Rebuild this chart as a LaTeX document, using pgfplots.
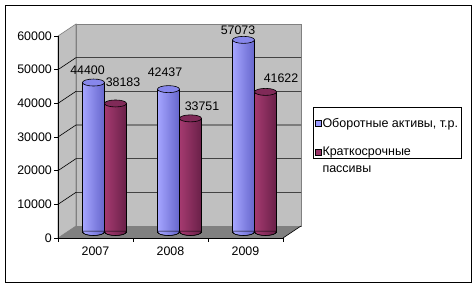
\documentclass[border=0pt]{standalone}
\usepackage{fontspec}
\setmainfont{Liberation Sans}
\usepackage{pgfplots}
\pgfplotsset{compat=1.18}
\usepackage{pgfplotstable}
\definecolor{wallc}{RGB}{192,192,192}
\definecolor{floorc}{RGB}{128,128,128}
\definecolor{bL}{RGB}{165,165,255}
\definecolor{bR}{RGB}{102,102,204}
\definecolor{bT}{RGB}{135,135,235}
\definecolor{rL}{RGB}{165,58,112}
\definecolor{rR}{RGB}{105,32,72}
\definecolor{rT}{RGB}{128,42,88}
\definecolor{legB}{RGB}{153,153,255}
\definecolor{legR}{RGB}{153,51,102}

\pgfplotstableread{
x y dx dy
0 44400 -17 12
1 42437 -14.5 17
2 57073 -16.5 10
}\blueT
\pgfplotstableread{
x y dx dy
0 38183 18.5 21.5
1 33751 22.5 12.4
2 41622 26.5 14
}\redT

\pgfdeclareplotmark{topB}{\path[draw=black, fill=bT, line width=0.6pt] (-11pt,0pt) ellipse [x radius=11pt, y radius=3.5pt];}
\pgfdeclareplotmark{topR}{\path[draw=black, fill=rT, line width=0.6pt] (11pt,0pt) ellipse [x radius=11pt, y radius=3.5pt];}
\pgfdeclareplotmark{botB}{%
  \path[left color=bL, right color=bR] (-21.6pt,0.9pt) -- (-21.6pt,0pt) arc[start angle=180,end angle=360,x radius=10.6pt,y radius=3.5pt] -- (-0.4pt,0.9pt) -- cycle;
  \draw[line width=0.6pt] (-22pt,0pt) arc[start angle=180,end angle=360,x radius=11pt,y radius=3.5pt];}
\pgfdeclareplotmark{botR}{%
  \path[left color=rL, right color=rR] (0.4pt,0.9pt) -- (0.4pt,0pt) arc[start angle=180,end angle=360,x radius=10.6pt,y radius=3.5pt] -- (21.6pt,0.9pt) -- cycle;
  \draw[line width=0.6pt] (0pt,0pt) arc[start angle=180,end angle=360,x radius=11pt,y radius=3.5pt];}

\newcommand{\F}[2]{([xshift=-9pt,yshift=-6pt]axis cs:#1,#2)}
\newcommand{\B}[2]{([xshift=9pt,yshift=6pt]axis cs:#1,#2)}

\begin{document}
\begin{tikzpicture}[x=1pt,y=1pt]
\useasboundingbox (0,0) rectangle (476,287);
\fill[white] (0,0) rectangle (476,287);
\draw[black, line width=0.8pt] (5,5) rectangle (471,282);
\begin{axis}[
  at={(67pt,55pt)}, anchor=south west, scale only axis,
  width=225pt, height=202pt,
  xmin=-0.5, xmax=2.5, ymin=0, ymax=60000,
  clip=false,
  axis line style={draw=none}, major tick length=0pt,
  xtick={0,1,2}, xticklabels={2007,2008,2009},
  ytick={0,10000,...,60000},
  scaled y ticks=false,
  /pgf/number format/1000 sep={},
  /pgf/number format/assume math mode=true,
  tick label style={font=\fontsize{12.4}{14}\selectfont},
  xticklabel style={anchor=center, xshift=-9pt, yshift=-19pt},
  yticklabel style={anchor=east, inner sep=0pt, xshift=-15pt, yshift=-6pt},
  every node near coord/.append style={font=\fontsize{12.4}{14}\selectfont, text=black},
  legend cell align=left,
  legend style={at={(1.092,0.619)}, anchor=north west, draw=black, line width=0.6pt,
    font=\fontsize{12.5}{12}\selectfont, inner xsep=2pt, inner ysep=0pt, row sep=16.5pt,
    nodes={inner sep=1pt, anchor=base west}},
]
% walls
\path[fill=wallc, draw=floorc, line width=0.6pt] \F{-0.5}{0} -- \B{-0.5}{0} -- \B{-0.5}{60000} -- \F{-0.5}{60000} -- cycle;
\path[fill=wallc, draw=floorc, line width=0.6pt] \B{-0.5}{0} -- \B{2.5}{0} -- \B{2.5}{60000} -- \B{-0.5}{60000} -- cycle;
\pgfplotsinvokeforeach{10000,20000,30000,40000,50000}{
  \draw[black, line width=0.6pt] \F{-0.5}{#1} -- \B{-0.5}{#1} -- \B{2.5}{#1};
}
% floor
\path[fill=floorc] \F{-0.5}{0} -- \F{2.5}{0} -- \B{2.5}{0} -- \B{-0.5}{0} -- cycle;
\draw[black, line width=0.6pt] \F{2.5}{0} -- \B{2.5}{0};
% front axes
\draw[black, line width=0.8pt] \F{-0.5}{60000} -- \F{-0.5}{0} -- \F{2.5}{0};
\pgfplotsinvokeforeach{0,10000,20000,30000,40000,50000,60000}{
  \draw[black, line width=0.6pt] \F{-0.5}{#1} -- ++(-4pt,0pt);
}
\pgfplotsinvokeforeach{-0.5,0.5,1.5,2.5}{
  \draw[black, line width=0.6pt] \F{#1}{0} -- ++(0pt,-4pt);
}
% bars, one path per bar so that each bar gets its own cylinder shading
\pgfplotsinvokeforeach{-0.2:0.2,0.8:1.2,1.8:2.2}{
\addplot[forget plot, ybar, bar width=22pt, bar shift=-11pt, draw=black, line width=0.6pt,
  left color=bL, right color=bR, restrict x to domain=#1] table[x=x,y=y] \blueT;
\addplot[forget plot, ybar, bar width=22pt, bar shift=11pt, draw=black, line width=0.6pt,
  left color=rL, right color=rR, restrict x to domain=#1] table[x=x,y=y] \redT;
}
\addplot[forget plot, only marks, mark=botB] table[x=x,y expr=0] \blueT;
\addplot[forget plot, only marks, mark=botR] table[x=x,y expr=0] \redT;
\addplot[forget plot, only marks, mark=topB,
  visualization depends on={\thisrow{dx}\as\dx},
  visualization depends on={\thisrow{dy}\as\dy},
  point meta=y, nodes near coords,
  nodes near coords style={anchor=center, xshift=\dx pt, yshift=\dy pt}] table[x=x,y=y] \blueT;
\addplot[forget plot, only marks, mark=topR,
  visualization depends on={\thisrow{dx}\as\dx},
  visualization depends on={\thisrow{dy}\as\dy},
  point meta=y, nodes near coords,
  nodes near coords style={anchor=center, xshift=\dx pt, yshift=\dy pt}] table[x=x,y=y] \redT;
% legend
\addlegendimage{legend image code/.code={\draw[draw=black, fill=legB, line width=0.5pt] (0pt,1pt) rectangle (6pt,7pt);}}
\addlegendentry{\rule{0pt}{19pt}Оборотные активы, т.р.}
\addlegendimage{legend image code/.code={\draw[draw=black, fill=legR, line width=0.5pt] (0pt,1pt) rectangle (6pt,7pt);}}
\addlegendentry{\begin{tabular}[t]{@{}l@{}}Краткосрочные\\[5pt]пассивы\end{tabular}}
\end{axis}
\end{tikzpicture}
\end{document}
